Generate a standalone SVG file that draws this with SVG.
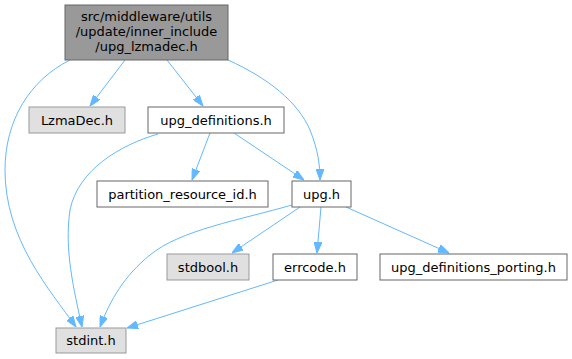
<svg xmlns="http://www.w3.org/2000/svg" width="572" height="359" viewBox="0 0 572 359">
<style>
.n rect{fill:#fff;stroke:#666;stroke-width:1}
.n.g rect{fill:#e0e0e0;stroke:#999}
.n.r rect{fill:#999;stroke:#666}
.n text{font-family:"DejaVu Sans",sans-serif;font-size:13px;fill:#000;text-anchor:middle}
.e path{fill:none;stroke:#63b8ff;stroke-width:1;marker-end:url(#a)}
</style>
<defs>
<marker id="a" viewBox="0 0 11 8" refX="11" refY="4" markerWidth="11" markerHeight="8" markerUnits="userSpaceOnUse" orient="auto">
<path d="M0,0 L11,4 L0,8 z" fill="#63b8ff" stroke="#63b8ff"/>
</marker>
</defs>
<rect width="572" height="359" fill="#fff"/>
<g id="edges" class="e">
<path d="M70,60 C30,80 5,120 5,170 C5,240 50,290 76,327"/>
<path d="M125,60 L90,106"/>
<path d="M167,60 L203,106"/>
<path d="M228,60 C268,78 298,102 310,130 C318,150 320,165 320,180"/>
<path d="M158,134 C120,145 78,170 70,210 C64,250 74,290 82,327"/>
<path d="M210,133 L192,180"/>
<path d="M234,133 L304,180"/>
<path d="M292,205 C240,220 180,230 150,255 C125,275 110,300 100,327"/>
<path d="M300,207 L232,253"/>
<path d="M321,207 L317,253"/>
<path d="M346,207 L449,253"/>
<path d="M278,280 L127,328"/>
</g>
<g id="root" class="n r"><rect x="65" y="5" width="163" height="55"/><text x="146.5" y="21">src/middleware/utils</text><text x="146.5" y="36">/update/inner_include</text><text x="146.5" y="51">/upg_lzmadec.h</text></g>
<g id="lzmadec" class="n g"><rect x="29" y="107" width="96" height="26"/><text x="77" y="125">LzmaDec.h</text></g>
<g id="upg_definitions" class="n"><rect x="148" y="107" width="136" height="26"/><text x="216" y="125">upg_definitions.h</text></g>
<g id="partition" class="n"><rect x="97" y="181" width="171" height="26"/><text x="182.5" y="199">partition_resource_id.h</text></g>
<g id="upg" class="n"><rect x="292" y="181" width="59" height="26"/><text x="321.5" y="199">upg.h</text></g>
<g id="stdbool" class="n g"><rect x="167" y="254" width="82" height="26"/><text x="208" y="272">stdbool.h</text></g>
<g id="errcode" class="n"><rect x="273" y="254" width="84" height="26"/><text x="315" y="272">errcode.h</text></g>
<g id="porting" class="n"><rect x="380" y="254" width="187" height="26"/><text x="473.5" y="272">upg_definitions_porting.h</text></g>
<g id="stdint" class="n g"><rect x="56" y="328" width="70" height="25"/><text x="91" y="345">stdint.h</text></g>
</svg>
